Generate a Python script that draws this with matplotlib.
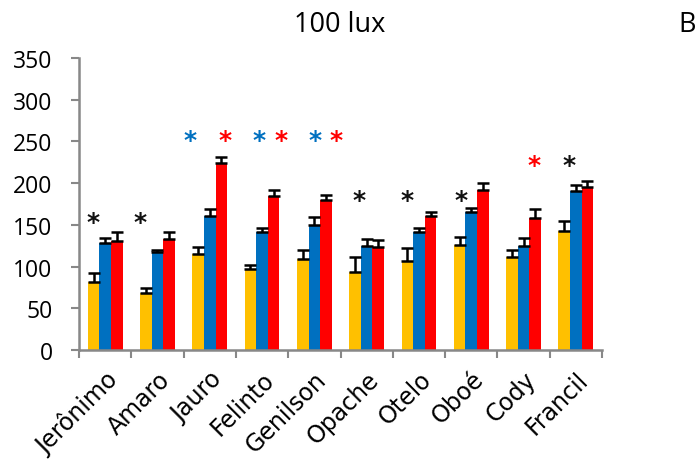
import matplotlib
matplotlib.use("Agg")
import matplotlib.pyplot as plt
import numpy as np

categories = ['Jerônimo', 'Amaro', 'Jauro', 'Felinto', 'Genilson',
              'Opache', 'Otelo', 'Oboé', 'Cody', 'Francil']
yellow_vals = [82, 68, 115, 97, 109, 94, 107, 126, 111, 143]
yellow_err = [10, 6, 8, 5, 11, 18, 15, 10, 9, 12]
blue_vals = [128, 117, 161, 141, 150, 125, 141, 165, 125, 191]
blue_err = [6, 3, 8, 5, 10, 8, 5, 5, 9, 7]
red_vals = [131, 133, 224, 185, 180, 124, 161, 192, 158, 195]
red_err = [10, 9, 7, 7, 6, 8, 5, 8, 11, 8]

# significance stars: category, value height, colour key
star_cat = [0, 1, 2, 2, 3, 3, 4, 4, 5, 6, 7, 8, 9]
star_shift = [-0.24, -0.33, -0.37, 0.30, -0.05, 0.36, 0.01, 0.41, -0.15, -0.23, -0.20, 0.21, -0.13]
star_val = [153, 153, 252, 252, 252, 252, 252, 252, 180, 180, 180, 222, 222]
star_col = ['k', 'k', 'b', 'r', 'b', 'r', 'b', 'r', 'k', 'k', 'k', 'r', 'k']

YELLOW = '#FFC000'
BLUE = '#0070C0'
RED = '#FF0000'
colmap = {'k': '#111111', 'b': BLUE, 'r': RED}

fig = plt.figure(figsize=(6.96, 4.60), dpi=100)
ax = fig.add_axes([79 / 696, 1 - 351 / 460, (602 - 79) / 696, (351 - 59) / 460])

x = np.arange(len(categories))
w = 0.222
err_kw = dict(ecolor='black', elinewidth=1.8, capsize=4, capthick=1.8)
for off, vals, errs, c in [(-w, yellow_vals, yellow_err, YELLOW),
                           (0, blue_vals, blue_err, BLUE),
                           (w, red_vals, red_err, RED)]:
    ax.bar(x + off, vals, width=w, color=c, edgecolor='none',
           yerr=[np.zeros(len(errs)), errs], error_kw=err_kw, zorder=2)

for ci, dx, v, c in zip(star_cat, star_shift, star_val, star_col):
    ax.text(ci + dx, v, '*', color=colmap[c], fontsize=18, ha='center',
            va='center', fontweight='bold', family='DejaVu Sans')

ax.set_xlim(-0.5, len(categories) - 0.5)
ax.set_ylim(0, 350)
ax.set_yticks(np.arange(0, 351, 50))
ax.set_yticklabels([str(v) for v in range(0, 351, 50)], fontsize=16.5,
                   family='Open Sans')

ax.set_xticks(np.arange(-0.5, len(categories), 1.0))
ax.set_xticklabels([])
ax.set_xticks(x, minor=True)
ax.set_xticklabels(categories, minor=True, rotation=45, ha='right',
                   rotation_mode='anchor', fontsize=17, family='DejaVu Sans')
ax.tick_params(axis='x', which='minor', length=0, pad=12)
ax.tick_params(axis='x', which='major', length=6, width=1.5, color='#888888')
ax.tick_params(axis='y', length=6, width=1.5, color='#888888', pad=13)

for s in ['top', 'right']:
    ax.spines[s].set_visible(False)
for s in ['left', 'bottom']:
    ax.spines[s].set_color('#888888')
    ax.spines[s].set_linewidth(1.8)

fig.text(340 / 696, 1 - 25 / 460, '100 lux', ha='center', va='center',
         fontsize=19.5, family='Open Sans')
fig.text(678 / 696, 1 - 25 / 460, 'B', ha='left', va='center',
         fontsize=19.5, family='Open Sans')

fig.savefig('out.png', dpi=100)
